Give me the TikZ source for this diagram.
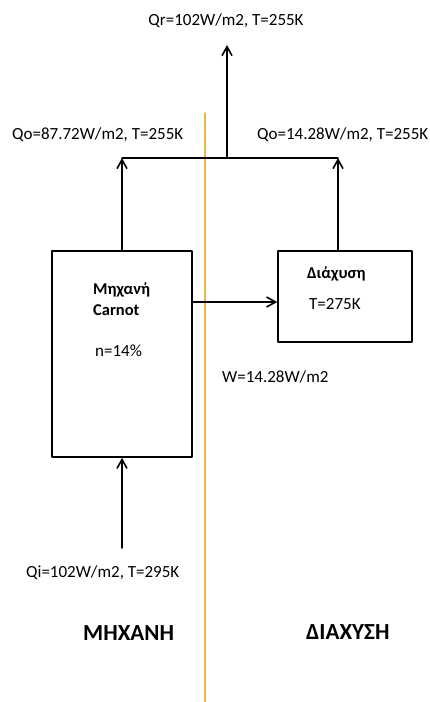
\documentclass[tikz,border=0pt]{standalone}
\usepackage{fontspec}
\setmainfont{Carlito}
\usetikzlibrary{arrows.meta}
\definecolor{divider}{RGB}{240,180,70}
\tikzset{
  box/.style={draw,line width=1.6pt,inner sep=0pt},
  flow/.style={->,line width=1.6pt},
  lbl/.style={inner sep=0pt,font=\fontsize{17}{20}\selectfont},
  head/.style={inner sep=0pt,font=\fontsize{16.5}{19}\selectfont\bfseries},
  side/.style={inner sep=0pt,font=\fontsize{23}{27}\selectfont\bfseries}
}
\begin{document}
\begin{tikzpicture}[line cap=round,line join=round,>={Straight Barb[length=9pt,width=10pt]},x=1pt,y=-1pt]
		\useasboundingbox (0,0) rectangle (429,702);
		\draw[divider,line width=2pt] (205,113)--(205,702);
		\node[box,minimum width=140pt,minimum height=206pt] (carnot) at (122,354) {};
		\node[box,minimum width=134pt,minimum height=91pt] (diax) at (345,296.5) {};
		\coordinate (jl) at (122,158);
		\coordinate (jr) at (338,158);
		\coordinate (jc) at (227,158);
		\coordinate (qr) at (227,45);
		\coordinate (qi) at (122,548);
		\draw[line width=1.6pt] (jl)--(jr);
		\draw[flow] (carnot.north)--(jl);
		\draw[flow] (diax.north -| jr)--(jr);
		\draw[flow] (jc)--(qr);
		\draw[flow] (qi)--(carnot.south);
		\draw[flow] (carnot.east |- 0,302)--(diax.west |- 0,302);
		\node[lbl] (tqr) at (226,21) {Qr=102W/m2, T=255K};
		\node[lbl,anchor=west] (tqo1) at (12,135) {Qo=87.72W/m2, T=255K};
		\node[lbl,anchor=west] (tqo2) at (257,135) {Qo=14.28W/m2, T=255K};
		\node[head,anchor=west] (tm) at (93,290) {Μηχανή};
		\node[head,anchor=west] (tc) at (93,310) {Carnot};
		\node[lbl,anchor=west] (tn) at (95,351) {n=14\%};
		\node[head,anchor=west] (td) at (307,274) {Διάχυση};
		\node[lbl,anchor=west] (tt) at (309,304) {T=275K};
		\node[lbl,anchor=west] (tw) at (222,377) {W=14.28W/m2};
		\node[lbl,anchor=west] (tqi) at (26,573) {Qi=102W/m2, T=295K};
		\node[side,anchor=west] (sm) at (83,633) {ΜΗΧΑΝΗ};
		\node[side,anchor=west] (sd) at (306,632) {ΔΙΑΧΥΣΗ};
	\end{tikzpicture}
\end{document}
